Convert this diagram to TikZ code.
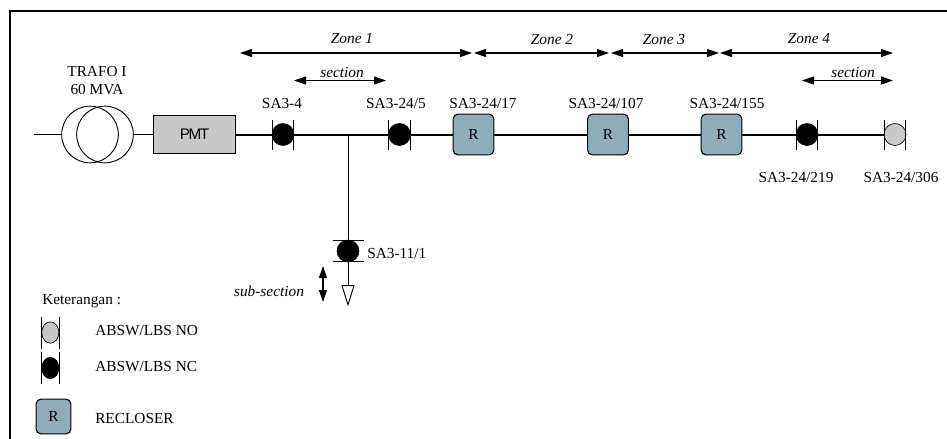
\documentclass[tikz,border=0pt]{standalone}
\usepackage{fontspec}
\setmainfont{Liberation Serif}
\newfontfamily\pmtfont[LetterSpace=-10]{Liberation Sans}
\usepackage{xcolor}
\definecolor{colorRecloser}{HTML}{8FADB8}
\definecolor{colorOpen}{HTML}{C8C8C8}
\usetikzlibrary{arrows.meta, shapes.geometric}
\tikzset{
  txt/.style={inner sep=0pt, font=\fontsize{11.5}{13}\selectfont},
  zonetxt/.style={txt, font=\fontsize{11.5}{13}\selectfont\itshape},
  sw/.style={circle, draw=black, inner sep=0pt, minimum size=16.5pt, line width=0.5pt},
  swclosed/.style={sw, fill=black},
  swopen/.style={sw, fill=colorOpen},
  legendsw/.style={ellipse, draw=black, inner sep=0pt, minimum width=12.8pt, minimum height=16pt, line width=0.5pt},
  recloser/.style={rectangle, rounded corners=3.5pt, draw=black, fill=colorRecloser, line width=0.8pt, minimum size=30.5pt, inner sep=0pt, font=\fontsize{11.5}{13}\selectfont},
  bus/.style={line width=1.5pt},
  wire/.style={line width=0.7pt},
  bar/.style={line width=0.6pt},
  span/.style={{Triangle[length=9pt,width=6pt]}-{Triangle[length=9pt,width=6pt]}, line width=0.8pt}
}
\begin{document}
\begin{tikzpicture}[x=0.75pt, y=-0.75pt]
\useasboundingbox (0,0) rectangle (947,439);
% frame
\coordinate (frameR) at (947,11);
\coordinate (frameC) at (10,11);
\coordinate (frameB) at (10,439);
\draw[line width=1.6pt] (frameR) -- (frameC) -- (frameB);

% transformer and breaker
\node[circle, draw, wire, minimum size=42.5pt, inner sep=0pt] (trafoL) at (90,134.5) {};
\node[circle, draw, wire, minimum size=42.5pt, inner sep=0pt] (trafoR) at (105,134.5) {};
\coordinate (feed) at (34,134.5);
\node[rectangle, draw, fill=colorOpen, line width=0.8pt, minimum width=61.5pt, minimum height=29pt, inner sep=0pt, txt] (pmt) at (194.5,134.5) {\pmtfont PMT};
\node[txt] (trafoName) at (97,71) {TRAFO I};
\node[txt] (trafoRating) at (97,90) {60 MVA};

% switches on the feeder
\node[swclosed] (sw4) at (283,134.5) {};
\node[swclosed] (sw5) at (399.5,134.5) {};
\node[recloser] (r17) at (473.5,134.5) {R};
\node[recloser] (r107) at (608,134.5) {R};
\node[recloser] (r155) at (721.5,134.5) {R};
\node[swclosed] (sw219) at (807,134.5) {};
\node[swopen] (sw306) at (895,134.5) {};
\coordinate (tap) at (348,134.5);

\node[txt] (lab4) at (282,103) {SA3-4};
\node[txt] (lab5) at (396,103) {SA3-24/5};
\node[txt] (lab17) at (483,103) {SA3-24/17};
\node[txt] (lab107) at (606,103) {SA3-24/107};
\node[txt] (lab155) at (727,103) {SA3-24/155};
\node[txt] (lab219) at (796,177) {SA3-24/219};
\node[txt] (lab306) at (901,177) {SA3-24/306};

\draw[wire] (feed) -- (trafoL);
\draw[wire] (trafoR) -- (pmt);
\draw[bus] (pmt) -- (sw4);
\draw[bus] (sw4) -- (sw5);
\draw[bus] (sw5) -- (r17);
\draw[bus] (r17) -- (r107);
\draw[bus] (r107) -- (r155);
\draw[bus] (r155) -- (sw219);
\draw[bus] (sw219) -- (sw306);
\foreach \s in {sw4,sw5,sw219,sw306}
  \draw[bar] ([shift={(-10.7,-15)}]\s.center) -- ([shift={(-10.7,15)}]\s.center)
             ([shift={(10.7,-15)}]\s.center) -- ([shift={(10.7,15)}]\s.center);

% branch
\node[swclosed] (sw11) at (348,251) {};
\node[isosceles triangle, isosceles triangle apex angle=35, shape border rotate=-90, draw, wire, fill=white, inner sep=0pt, minimum height=14pt, minimum width=9pt] (load) at (348,290) {};
\node[txt, anchor=west] (lab11) at (367,253) {SA3-11/1};
\draw[wire] (tap) -- (sw11);
\draw[wire] (sw11) -- (load.north);
\draw[bar] ([shift={(-15.5,-10.7)}]sw11.center) -- ([shift={(15.5,-10.7)}]sw11.center)
           ([shift={(-15.5,10.7)}]sw11.center) -- ([shift={(15.5,10.7)}]sw11.center);

% zones and sections
\foreach \n/\a/\b in {zoneA/240/472, zoneB/474/609, zoneC/611/719, zoneD/720/893}{
  \coordinate (\n L) at (\a,53);
  \coordinate (\n R) at (\b,53);
  \draw[span] (\n L) -- (\n R);
}
\node[zonetxt] (zoneAtxt) at (352,39) {Zone 1};
\node[zonetxt] (zoneBtxt) at (552,39) {Zone 2};
\node[zonetxt] (zoneCtxt) at (664,39) {Zone 3};
\node[zonetxt] (zoneDtxt) at (809,39) {Zone 4};
\foreach \n/\a/\b in {secA/294/386, secB/802/893}{
  \coordinate (\n L) at (\a,80.5);
  \coordinate (\n R) at (\b,80.5);
  \draw[span] (\n L) -- (\n R);
}
\node[zonetxt] (secAtxt) at (342,72) {section};
\node[zonetxt] (secBtxt) at (853,72) {section};
\coordinate (subT) at (323,266);
\coordinate (subB) at (323,302);
\draw[span] (subT) -- (subB);
\node[zonetxt] (subtxt) at (269,291) {sub-section};

% legend
\node[txt, anchor=west] (legTitle) at (42,301) {Keterangan :};
\node[legendsw, fill=colorOpen] (legNO) at (50.3,332.5) {};
\node[legendsw, fill=black] (legNC) at (50.3,368) {};
\node[recloser, minimum size=26pt] (legR) at (53.5,416.5) {R};
\foreach \s in {legNO,legNC}
  \draw[bar] ([shift={(-8.8,-16)}]\s.center) -- ([shift={(-8.8,16)}]\s.center)
             ([shift={(8.8,-16)}]\s.center) -- ([shift={(8.8,16)}]\s.center);
\node[txt, anchor=west] (legNOtxt) at (95,331) {ABSW/LBS NO};
\node[txt, anchor=west] (legNCtxt) at (95,367) {ABSW/LBS NC};
\node[txt, anchor=west] (legRtxt) at (95,418) {RECLOSER};
\end{tikzpicture}
\end{document}
